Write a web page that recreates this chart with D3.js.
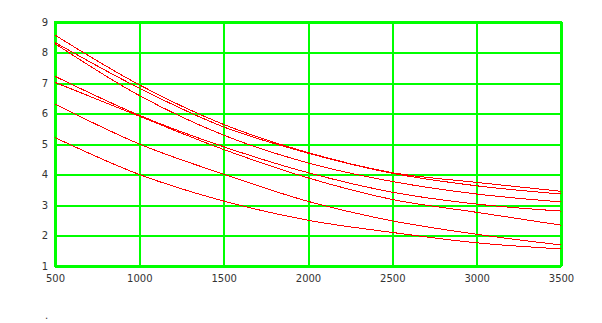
<!DOCTYPE html>
<html>
<head>
<meta charset="utf-8">
<script src="https://cdnjs.cloudflare.com/ajax/libs/d3/7.8.5/d3.min.js"></script>
<style>
  body { margin: 0; background: #fff; }
  svg { display: block; }
  .tick text { font-family: "DejaVu Sans", sans-serif; font-size: 10px; fill: #333; }
</style>
</head>
<body>
<svg id="chart"></svg>
<script>
// values
var xValues = [500, 1000, 1500, 2000, 2500, 3000, 3500]
var seriesA = [8.57, 6.94, 5.64, 4.72, 4.06, 3.74, 3.45]
var seriesB = [8.33, 6.83, 5.56, 4.70, 4.04, 3.63, 3.36]
var seriesC = [8.29, 6.59, 5.29, 4.38, 3.77, 3.36, 3.10]
var seriesD = [7.22, 5.94, 4.91, 4.06, 3.42, 3.03, 2.80]
var seriesE = [7.02, 5.91, 4.82, 3.89, 3.18, 2.76, 2.34]
var seriesF = [6.31, 5.00, 4.01, 3.12, 2.48, 2.04, 1.69]
var seriesG = [5.21, 4.00, 3.13, 2.50, 2.10, 1.76, 1.56]

var xTicks = [500, 1000, 1500, 2000, 2500, 3000, 3500]
var yTicks = [1, 2, 3, 4, 5, 6, 7, 8, 9]

var allSeries = [seriesA, seriesB, seriesC, seriesD, seriesE, seriesF, seriesG]

var width = 602,
  height = 323;

// plot box (window.top is taken, so prefix these)
var plotLeft = 55, plotRight = 561, plotTop = 22, plotBottom = 266;

var svg = d3.select("#chart")
  .attr("width", width)
  .attr("height", height);

var x = d3.scaleLinear().domain([500, 3500]).range([plotLeft, plotRight]);
var y = d3.scaleLinear().domain([1, 9]).range([plotBottom, plotTop]);

//grid + labels come from the axes
svg.append("g")
  .attr("transform", "translate(0," + plotBottom + ")")
  .call(d3.axisBottom(x).tickValues(xTicks).tickFormat(d3.format("d"))
    .tickSize(-(plotBottom - plotTop)).tickPadding(9));

svg.append("g")
  .attr("transform", "translate(" + plotLeft + ",0)")
  .call(d3.axisLeft(y).tickValues(yTicks).tickFormat(d3.format("d"))
    .tickSize(-(plotRight - plotLeft)).tickPadding(7));

svg.selectAll(".domain").remove();
svg.selectAll(".tick line")
  .attr("stroke", "#00ff00")
  .attr("stroke-width", 2)
  .attr("shape-rendering", "crispEdges");

// box round the plot
svg.append("rect")
  .attr("x", plotLeft)
  .attr("y", plotTop)
  .attr("width", plotRight - plotLeft)
  .attr("height", plotBottom - plotTop)
  .attr("fill", "none")
  .attr("stroke", "#00ff00")
  .attr("stroke-width", 2)
  .attr("shape-rendering", "crispEdges");

var line = d3.line()
  .x(function (d, i) { return x(xValues[i]) })
  .y(function (d) { return y(d) })
  .curve(d3.curveMonotoneX);

svg.append("g")
  .selectAll("path")
  .data(allSeries)
  .enter()
  .append("path")
  .attr("d", line)
  .attr("fill", "none")
  .attr("stroke", "#ff0000")
  .attr("stroke-width", 1)
  .attr("shape-rendering", "crispEdges");

// stray dot under the chart
svg.append("text")
  .attr("x", 45)
  .attr("y", 319)
  .style("font-family", "DejaVu Sans, sans-serif")
  .style("font-size", "10px")
  .attr("fill", "#333")
  .text(".");
</script>
</body>
</html>
